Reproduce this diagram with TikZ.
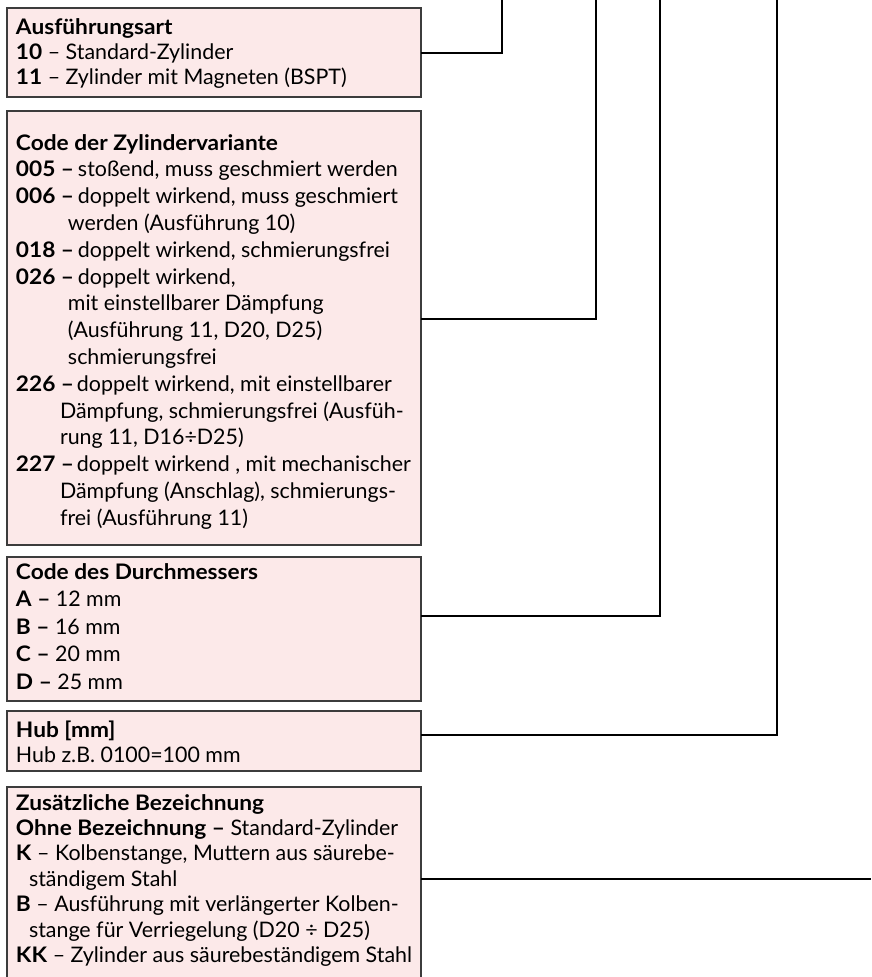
\documentclass[tikz,border=0pt]{standalone}
\usepackage{fontspec}
\setmainfont{Lato}[BoldFeatures={FakeStretch=1.06}]
\definecolor{boxfill}{RGB}{252,233,233}
\definecolor{boxline}{RGB}{60,60,60}
\newcommand\fl{\rule{0pt}{20pt}}
\newcommand\cd[1]{\makebox[45pt][l]{\bfseries #1}\makebox[17pt][l]{\bfseries –}}
\newcommand\cdd[1]{\makebox[45pt][l]{\bfseries #1}\makebox[16pt][l]{\bfseries –}}
\tikzset{
  infobox/.style={draw=boxline, line width=1.3pt, fill=boxfill, anchor=north west,
    inner sep=0pt, outer sep=0pt, minimum width=414pt},
  txt/.style={anchor=north west, inner sep=0pt, outer sep=0pt, align=left},
  conn/.style={line width=2pt, black},
}
\begin{document}
\begin{tikzpicture}[x=1pt,y=-1pt]
\useasboundingbox (0,0) rectangle (871,977);
\clip (0,0) rectangle (871,977);
% boxes
\node[infobox, minimum height=89pt]  (b1) at (7,8) {};
\node[infobox, minimum height=434pt] (b2) at (7,111) {};
\node[infobox, minimum height=144pt] (b3) at (7,557) {};
\node[infobox, minimum height=60pt]  (b4) at (7,711) {};
\node[infobox, minimum height=198pt] (b5) at (7,787) {};
% texts
\node[txt, font=\fontsize{21.4}{25}\selectfont] (x1) at (16,14) {%
\fl\textbf{Ausführungsart}\\
\textbf{10} – Standard-Zylinder\\
\textbf{11} – Zylinder mit Magneten (BSPT)};
\node[txt, font=\fontsize{21.4}{26.8}\selectfont] (x2) at (16,130) {%
\fl\textbf{Code der Zylindervariante}\\
\cd{005}stoßend, muss geschmiert werden\\
\cd{006}doppelt wirkend, muss geschmiert\\
\hspace*{52pt}werden (Ausführung 10)\\
\cd{018}doppelt wirkend, schmierungsfrei\\
\cd{026}doppelt wirkend,\\
\hspace*{52pt}mit einstellbarer Dämpfung\\
\hspace*{52pt}(Ausführung 11, D20, D25)\\
\hspace*{52pt}schmierungsfrei\\
\cdd{226}doppelt wirkend, mit einstellbarer\\
\hspace*{44pt}Dämpfung, schmierungsfrei (Ausfüh-\\
\hspace*{44pt}rung 11, D16÷D25)\\
\cdd{227}doppelt wirkend , mit mechanischer\\
\hspace*{44pt}Dämpfung (Anschlag), schmierungs-\\
\hspace*{44pt}frei (Ausführung 11)};
\node[txt, font=\fontsize{21.4}{27.5}\selectfont] (x3) at (16,559) {%
\fl\textbf{Code des Durchmessers}\\
\textbf{A –} 12 mm\\
\textbf{B –} 16 mm\\
\textbf{C –} 20 mm\\
\textbf{D –} 25 mm};
\node[txt, font=\fontsize{21.4}{25}\selectfont] (x4) at (16,717) {%
\fl\textbf{Hub [mm]}\\
Hub z.B. 0100=100 mm};
\node[txt, font=\fontsize{21.4}{25.4}\selectfont] (x5) at (16,790) {%
\fl\textbf{Zusätzliche Bezeichnung}\\
\textbf{Ohne Bezeichnung –} Standard-Zylinder\\
\textbf{K} – Kolbenstange, Muttern aus säurebe-\\
\hspace*{13pt}ständigem Stahl\\
\textbf{B} – Ausführung mit verlängerter Kolben-\\
\hspace*{13pt}stange für Verriegelung (D20 ÷ D25)\\
\textbf{KK} – Zylinder aus säurebeständigem Stahl};
% connector ends
\coordinate (t1) at (502,0);
\coordinate (t2) at (596,0);
\coordinate (t3) at (660,0);
\coordinate (t4) at (777,0);
\coordinate (t5) at (871,879);
% connectors
\draw[conn] (b1.east) -| (t1);
\draw[conn] ([yshift=9pt]b2.east) -| (t2);
\draw[conn] ([yshift=13pt]b3.east) -| (t3);
\draw[conn] ([yshift=6pt]b4.east) -| (t4);
\draw[conn] ([yshift=7pt]b5.east) -- (t5);
\end{tikzpicture}
\end{document}
